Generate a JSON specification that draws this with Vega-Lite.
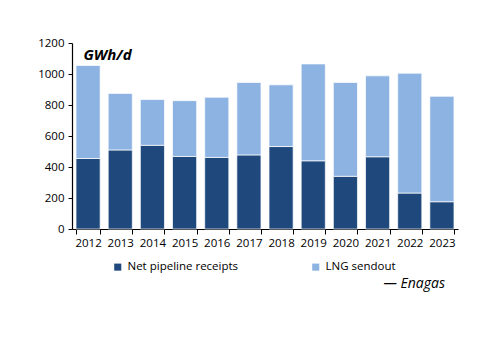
{
  "$schema": "https://vega.github.io/schema/vega-lite/v6.json",
  "width": 386,
  "height": 186,
  "autosize": {"type": "none"},
  "padding": {"left": 72, "top": 43, "right": 42, "bottom": 124},
  "background": "white",
  "title": {
    "text": "— Enagas",
    "orient": "bottom",
    "anchor": "end",
    "font": "Open Sans",
    "fontSize": 14,
    "fontStyle": "italic",
    "fontWeight": "normal",
    "color": "#000000",
    "offset": 4,
    "dx": -13
  },
  "data": {
    "values": [
      {"year": "2012", "series": "Net pipeline receipts", "value": 455},
      {"year": "2012", "series": "LNG sendout", "value": 600},
      {"year": "2013", "series": "Net pipeline receipts", "value": 510},
      {"year": "2013", "series": "LNG sendout", "value": 365},
      {"year": "2014", "series": "Net pipeline receipts", "value": 540},
      {"year": "2014", "series": "LNG sendout", "value": 295},
      {"year": "2015", "series": "Net pipeline receipts", "value": 468},
      {"year": "2015", "series": "LNG sendout", "value": 360},
      {"year": "2016", "series": "Net pipeline receipts", "value": 462},
      {"year": "2016", "series": "LNG sendout", "value": 388},
      {"year": "2017", "series": "Net pipeline receipts", "value": 478},
      {"year": "2017", "series": "LNG sendout", "value": 467},
      {"year": "2018", "series": "Net pipeline receipts", "value": 532},
      {"year": "2018", "series": "LNG sendout", "value": 398},
      {"year": "2019", "series": "Net pipeline receipts", "value": 440},
      {"year": "2019", "series": "LNG sendout", "value": 625},
      {"year": "2020", "series": "Net pipeline receipts", "value": 340},
      {"year": "2020", "series": "LNG sendout", "value": 605},
      {"year": "2021", "series": "Net pipeline receipts", "value": 466},
      {"year": "2021", "series": "LNG sendout", "value": 522},
      {"year": "2022", "series": "Net pipeline receipts", "value": 232},
      {"year": "2022", "series": "LNG sendout", "value": 773},
      {"year": "2023", "series": "Net pipeline receipts", "value": 176},
      {"year": "2023", "series": "LNG sendout", "value": 680}
    ]
  },
  "mark": {"type": "bar", "stroke": "white", "strokeWidth": 0.7},
  "encoding": {
    "x": {
      "field": "year",
      "type": "ordinal",
      "title": null,
      "scale": {"paddingInner": 0.25, "paddingOuter": 0.125},
      "axis": {
        "labelAngle": 0,
        "tickBand": "extent",
        "tickSize": 5,
        "labelPadding": 3,
        "domainColor": "#000000",
        "tickColor": "#000000",
        "domainWidth": 1.2,
        "labelFont": "Open Sans",
        "labelFontSize": 11.5,
        "labelColor": "#000000"
      }
    },
    "y": {
      "field": "value",
      "type": "quantitative",
      "stack": "zero",
      "scale": {"domain": [0, 1200]},
      "axis": {
        "values": [0, 200, 400, 600, 800, 1000, 1200],
        "format": "d",
        "grid": false,
        "tickSize": 4,
        "labelPadding": 4,
        "domainColor": "#000000",
        "tickColor": "#000000",
        "domainWidth": 1.2,
        "labelFont": "Open Sans",
        "labelFontSize": 11.5,
        "labelColor": "#000000",
        "title": "GWh/d",
        "titleAngle": 0,
        "titleX": 11,
        "titleY": 16,
        "titleAlign": "left",
        "titleBaseline": "alphabetic",
        "titleFont": "Open Sans",
        "titleFontSize": 15,
        "titleFontWeight": "bold",
        "titleFontStyle": "italic",
        "titleColor": "#000000"
      }
    },
    "color": {
      "field": "series",
      "type": "nominal",
      "sort": ["Net pipeline receipts", "LNG sendout"],
      "scale": {"domain": ["Net pipeline receipts", "LNG sendout"], "range": ["#1f497d", "#8db3e2"]},
      "legend": {
        "title": null,
        "orient": "none",
        "direction": "horizontal",
        "legendX": 40,
        "legendY": 218,
        "symbolType": "square",
        "symbolSize": 50,
        "symbolStrokeWidth": 0,
        "labelFont": "Open Sans",
        "labelFontSize": 11.5,
        "labelColor": "#000000",
        "columnPadding": 71,
        "labelOffset": 4
      }
    },
    "order": {"field": "series", "sort": "descending"}
  },
  "config": {"view": {"stroke": null}}
}
